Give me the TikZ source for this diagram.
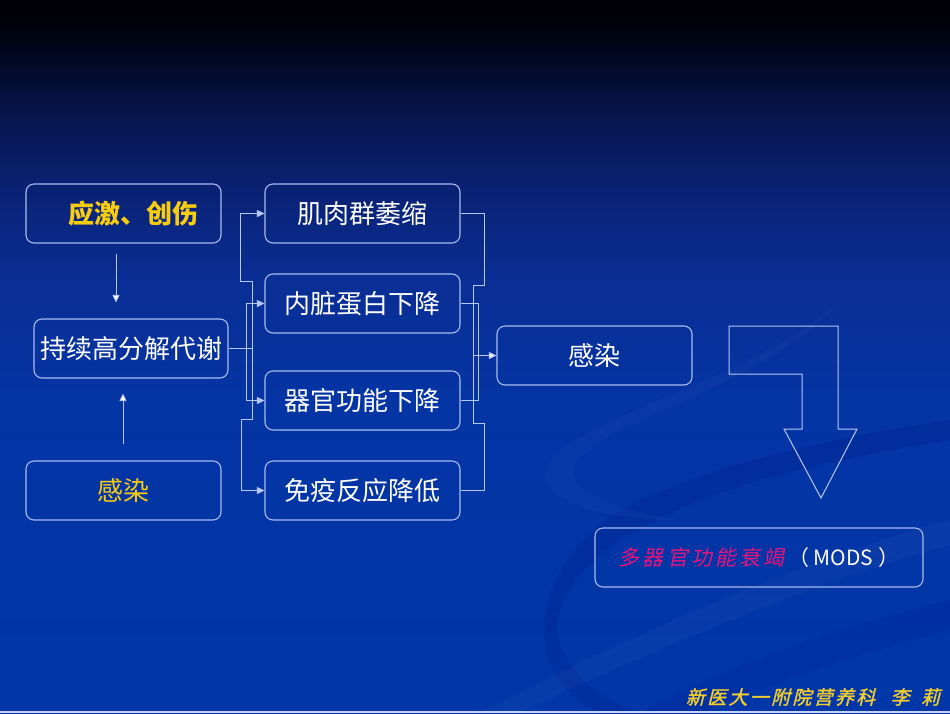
\documentclass[tikz,border=0pt]{standalone}
\usepackage{fontspec}
\newfontfamily\cjk{Noto Sans CJK SC}
\newfontfamily\cjkslant{Noto Sans CJK SC}[FakeSlant=0.2,LetterSpace=15]
\newfontfamily\cjkfoot{Noto Sans CJK SC}[FakeSlant=0.25,FakeBold=1.5,LetterSpace=12]
\usetikzlibrary{arrows.meta}
\definecolor{boxc}{HTML}{A8BCF0}
\definecolor{linec}{HTML}{B8C8F4}
\definecolor{yel}{HTML}{F8CC10}
\definecolor{modspink}{HTML}{E8147C}
\definecolor{footyel}{HTML}{F0CC30}
\definecolor{bgtop}{HTML}{000005}
\definecolor{bgz}{HTML}{00020C}
\definecolor{bga}{HTML}{051242}
\definecolor{bgb}{HTML}{0A2070}
\definecolor{bgc}{HTML}{0A2E94}
\definecolor{bgd}{HTML}{0534A4}
\definecolor{bgbot}{HTML}{0036A8}
\pgfdeclareverticalshading{bgshade}{100bp}{color(0bp)=(bgbot); color(25bp)=(bgbot); color(47bp)=(bgd); color(55.5bp)=(bgc); color(62.5bp)=(bgb); color(68bp)=(bga); color(73bp)=(bgz); color(75bp)=(bgtop); color(100bp)=(bgtop)}
\tikzset{
  box/.style={draw=boxc, line width=1.1pt, rounded corners=8pt, minimum width=195pt, minimum height=59pt, inner sep=0pt, text=white, font=\cjk\fontsize{26}{29}\selectfont},
  conn/.style={draw=linec, line width=0.9pt},
  arr/.style={conn, -{Triangle[length=7.5pt,width=7pt]}, arrows={[fill=white]}},
  arr2/.style={conn, {Triangle[length=7.5pt,width=7pt]}-{Triangle[length=7.5pt,width=7pt]}}
}
\begin{document}
\begin{tikzpicture}[x=1pt,y=-1pt]
\useasboundingbox (0,0) rectangle (950,713);
\shade[shading=bgshade] (0,0) rectangle (950,713);
% faint swooshes
\begin{scope}
\clip (0,0) rectangle (950,713);
\fill[black!60!blue, opacity=0.12] (950,440) .. controls (760,470) and (590,520) .. (560,610) .. controls (545,660) and (600,700) .. (640,713) -- (600,713) .. controls (520,680) and (520,560) .. (640,500) .. controls (740,455) and (880,430) .. (950,420) -- cycle;
\fill[white, opacity=0.03] (950,520) .. controls (800,560) and (620,640) .. (480,713) -- (520,713) .. controls (650,650) and (820,580) .. (950,545) -- cycle;
\fill[black!50!blue, opacity=0.1] (950,600) .. controls (820,630) and (700,680) .. (640,713) -- (700,713) .. controls (780,680) and (870,650) .. (950,630) -- cycle;
\fill[white, opacity=0.025] (840,300) .. controls (760,380) and (560,420) .. (545,470) .. controls (540,500) and (600,520) .. (680,520) .. controls (610,510) and (565,490) .. (575,465) .. controls (600,420) and (780,380) .. (840,300) -- cycle;
\end{scope}
\fill[linec!80] (0,711) rectangle (950,713);

% nodes
\node[box] (yingji) at (123.5,213.5) {\hspace*{20pt}\textcolor{yel}{\bfseries 应激、创伤}};
\node[box, minimum width=194pt] (chixu) at (131,348.5) {持续高分解代谢};
\node[box] (ganran1) at (123.5,490.5) {\textcolor{yel}{感染}};
\node[box] (jirou) at (362.5,213.5) {肌肉群萎缩};
\node[box] (neizang) at (362.5,303.5) {内脏蛋白下降};
\node[box] (qiguan) at (362.5,400.5) {器官功能下降};
\node[box] (mianyi) at (362.5,490.5) {免疫反应降低};
\node[box] (ganran2) at (594.5,355.5) {感染};
\node[box, minimum width=328pt] (mods) at (759,557.5) {\fontsize{21}{24}\selectfont{\cjkslant\color{modspink}多器官功能衰竭}\,（ MODS ）};
\node[anchor=east, inner sep=0pt, text=footyel, font=\cjkfoot\fontsize{19}{21}\selectfont] (foot) at (940,697) {新医大一附院营养科\hspace{0.8em}李\hspace{0.6em}莉};

% vertical arrows
\draw[arr] ([xshift=-7.5pt,yshift=-10pt]yingji.south) -- ([xshift=-15pt,yshift=16pt]chixu.north);
\draw[arr] ([xshift=-0.5pt,yshift=16pt]ganran1.north) -- ([xshift=-8pt,yshift=-15pt]chixu.south);

% left brackets
\draw[conn] (chixu.east) -- ++(24,0) coordinate (jl);
\draw[arr2] (jirou.west) -- ++(-24,0) |- (252,281) -- (252,419) -| (241,490.5) -- (mianyi.west);
\draw[arr2] (neizang.west) -| (246,400.5) -- (qiguan.west);

% right brackets
\draw[conn] (jirou.east) -| (484,285) -- (473,285) -- (473,423) -| (484,490.5) -- (mianyi.east);
\draw[conn] (neizang.east) -| (478,400.5) -- (qiguan.east);
\draw[arr] (473,355.5) -- (ganran2.west);

% big bent arrow
\draw[draw=linec, line width=1pt] (729,326) -- (838,326) -- (838,429) -- (857,429) -- (821,498) -- (784,429) -- (802,429) -- (802,374) -- (729,374) -- cycle;
\end{tikzpicture}
\end{document}
